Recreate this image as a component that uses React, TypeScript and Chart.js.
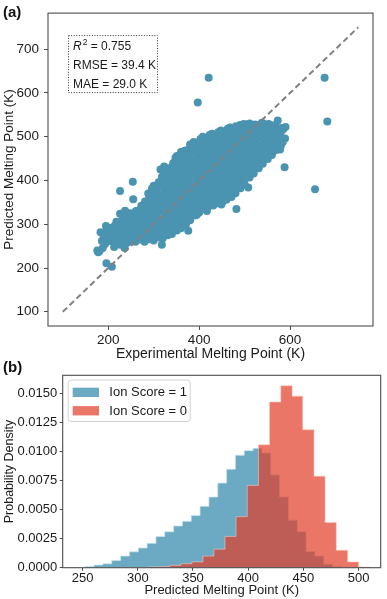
import React, { useEffect, useRef } from 'react';
import { Chart, registerables } from 'chart.js';

Chart.register(...registerables);

const FONT = '"Liberation Sans", Arial, Helvetica, sans-serif';
const TEXT = '#1a1a1a';
const AXIS = '#4d4d4d';

// ---------- Panel (a) data ----------
const scatterRange = [67.5, 782.5];
const parityLine = [100, 750];
const scatterTicksX = [200, 400, 600];
const scatterTicksY = [100, 200, 300, 400, 500, 600, 700];
const metricR2 = '0.755';
const metricRMSE = 'RMSE = 39.4 K';
const metricMAE = 'MAE = 29.0 K';

// [experimental K, predicted K]
const meltingPoints: [number, number][] = [
  [178,236],[176,240],[181,239],[186,262],[183,282],[189,276],[190,268],[193,255],[195,283],[195,296],
  [196,211],[198,262],[200,292],[203,275],[204,286],[208,203],[208,271],[210,282],[211,293],[215,257],
  [215,297],[218,270],[218,306],[220,286],[222,300],[224,262],[226,253],[226,324],[226,376],[229,276],
  [230,290],[232,314],[233,264],[233,301],[235,282],[236,246],[237,331],[238,270],[240,295],[240,320],
  [242,258],[244,308],[245,288],[247,300],[248,275],[248,325],[250,262],[252,280],[252,295],[252,315],
  [254,397],[255,357],[256,268],[257,305],[188,246],[205,262],[213,248],[228,305],[243,276],[255,290],
  [260,260],[262,274],[259,288],[261,302],[263,316],[261,330],[265,281],[266,309],
  [271,265],[269,279],[272,293],[270,307],[268,321],[271,335],[273,342],[277,335],[275,286],[276,300],
  [280,260],[282,274],[279,288],[281,302],[283,316],[280,330],[278,344],[281,352],[285,282],[286,310],
  [291,266],[289,280],[292,294],[290,308],[288,322],[291,336],[293,350],[290,364],[288,370],[295,273],[296,330],
  [300,263],[302,277],[299,291],[301,305],[303,319],[300,333],[298,347],[301,361],[303,375],[300,388],[296,381],
  [311,270],[309,284],[312,298],[310,312],[308,326],[311,340],[313,354],[310,368],[308,382],[311,396],
  [318,253],[320,268],[322,282],[319,296],[321,310],[323,324],[320,338],[318,352],[321,366],[323,380],[320,394],[318,408],[322,415],[315,425],
  [331,275],[329,289],[332,303],[330,317],[328,331],[331,345],[333,359],[330,373],[328,387],[331,401],[333,415],[330,428],[323,432],[336,420],
  [340,278],[342,292],[339,306],[341,320],[343,334],[340,348],[338,362],[341,376],[343,390],[340,404],[338,418],[341,432],[343,440],
  [351,286],[349,300],[352,314],[350,328],[348,342],[351,356],[353,370],[350,384],[348,398],[351,412],[353,426],[350,440],[348,452],[351,456],
  [360,291],[362,305],[359,319],[361,333],[363,347],[360,361],[358,375],[361,389],[363,403],[360,417],[358,431],[361,445],[363,459],[360,465],
  [371,300],[369,314],[372,328],[370,342],[368,356],[371,370],[373,384],[370,398],[368,412],[371,426],[373,440],[370,454],[368,468],[373,469],[376,285],
  [380,309],[382,323],[379,337],[381,351],[383,365],[380,379],[378,393],[381,407],[383,421],[380,435],[378,449],[381,463],[383,477],[380,482],
  [391,320],[389,334],[392,348],[390,362],[388,376],[391,390],[393,404],[390,418],[388,432],[391,446],[393,460],[390,474],[388,488],[395,322],
  [400,327],[402,341],[399,355],[401,369],[403,383],[400,397],[398,411],[401,425],[403,439],[400,453],[398,467],[401,481],[403,495],[406,495],
  [411,335],[409,349],[412,363],[410,377],[408,391],[411,405],[413,419],[410,433],[408,447],[411,461],[413,475],[410,489],[408,500],[417,337],
  [420,340],[422,354],[419,368],[421,382],[423,396],[420,410],[418,424],[421,438],[423,452],[420,466],[418,480],[421,494],[423,504],[424,350],
  [431,343],[429,357],[432,371],[430,385],[428,399],[431,413],[433,427],[430,441],[428,455],[431,469],[433,483],[430,497],[428,507],
  [440,348],[442,362],[439,376],[441,390],[443,404],[440,418],[438,432],[441,446],[443,460],[440,474],[438,488],[441,502],[442,510],
  [451,350],[449,364],[452,378],[450,392],[448,406],[451,420],[453,434],[450,448],[448,462],[451,476],[453,490],[450,504],[448,514],
  [460,356],[462,370],[459,384],[461,398],[463,412],[460,426],[458,440],[461,454],[463,468],[460,482],[458,496],[461,510],[463,518],
  [471,362],[469,376],[472,390],[470,404],[468,418],[471,432],[473,446],[470,460],[468,474],[471,488],[473,502],[470,516],[468,521],
  [482,335],[480,371],[482,385],[479,399],[481,413],[483,427],[480,441],[478,455],[481,469],[483,483],[480,497],[478,511],[481,524],[488,396],
  [491,382],[489,396],[492,410],[490,424],[488,438],[491,452],[493,466],[490,480],[488,494],[491,508],[493,522],[490,527],
  [500,392],[502,406],[499,420],[501,434],[503,448],[500,462],[498,476],[501,490],[503,504],[500,518],[498,529],[508,384],[505,528],
  [511,407],[509,421],[512,435],[510,449],[508,463],[511,477],[513,491],[510,505],[508,519],[511,530],
  [520,416],[522,430],[519,444],[521,458],[523,472],[520,486],[518,500],[521,514],[523,528],
  [531,428],[529,442],[532,456],[530,470],[528,484],[531,498],[533,512],[530,526],[538,532],
  [540,438],[542,452],[539,466],[541,480],[543,494],[540,508],[538,522],[541,530],
  [551,449],[549,463],[552,477],[550,491],[548,505],[551,519],[553,529],
  [560,458],[562,472],[559,486],[561,500],[563,514],[560,526],[565,468],
  [571,470],[569,484],[572,498],[570,512],[568,524],[573,537],[578,471],
  [580,480],[582,494],[579,508],[581,520],[585,517],[584,488],
  [589,496],[590,522],[588,430],
  [397,578],[421,635],[655,380],[676,635],[682,535],
  [449,345],[395,330],[417,330],
];

// ---------- Panel (b) data ----------
const histRangeX = [232, 520];
const histMaxY = 0.0166;
const histTicksX = [250, 300, 350, 400, 450, 500];
const histTicksY = [0, 0.0025, 0.005, 0.0075, 0.01, 0.0125, 0.015];
const ionScore1Label = 'Ion Score = 1';
const ionScore0Label = 'Ion Score = 0';
const ionScore1Edges = [252.4, 260.4, 268.4, 276.4, 284.4, 292.4, 300.4, 308.4, 316.4, 324.4, 332.4, 340.4, 348.4, 356.4, 364.4, 372.4, 380.4, 388.4, 396.4, 404.4, 412.4, 420.4, 428.4, 436.4, 444.4, 452.4, 460.4, 468.4, 476.4, 484.4];
const ionScore1Density = [0.00011, 0.00023, 0.00034, 0.00063, 0.0010, 0.00137, 0.0017, 0.0021, 0.0027, 0.0031, 0.0036, 0.0040, 0.0045, 0.0053, 0.0061, 0.0073, 0.0085, 0.0097, 0.0101, 0.0103, 0.0099, 0.0080, 0.0061, 0.0041, 0.0031, 0.0014, 0.0010, 0.0003, 0.0001];
const ionScore0Edges = [309, 319, 329, 339, 349, 359, 369, 379, 389, 399.1, 409.3, 419.3, 429.5, 439.8, 449.4, 459.6, 469.6, 479.8, 490.1, 500, 509.9];
const ionScore0Density = [0.00006, 0.0001, 0.0002, 0.00034, 0.0005, 0.0010, 0.0016, 0.0027, 0.0044, 0.0071, 0.0106, 0.0143, 0.0157, 0.0148, 0.0119, 0.0079, 0.0039, 0.0015, 0.0005, 0.00006];

const BLUE_FILL = 'rgba(46,134,171,0.7)';
const RED_FILL = 'rgba(224,60,38,0.7)';
const SCATTER = '#4a94b1';

function stepSeries(edges: number[], dens: number[]) {
  const pts = [{ x: edges[0], y: 0 }];
  dens.forEach((d, i) => pts.push({ x: edges[i], y: d }));
  pts.push({ x: edges[edges.length - 1], y: 0 });
  return pts;
}

const framePlugin = {
  id: 'frame',
  afterDatasetsDraw(chart: any) {
    const { ctx, chartArea } = chart;
    ctx.save();
    ctx.strokeStyle = AXIS;
    ctx.lineWidth = 1.1;
    ctx.strokeRect(chartArea.left, chartArea.top, chartArea.right - chartArea.left, chartArea.bottom - chartArea.top);
    ctx.restore();
  },
};

const metricsPlugin = {
  id: 'metrics',
  afterDraw(chart: any) {
    const { ctx, chartArea } = chart;
    const bx = chartArea.left + 20;
    const by = chartArea.top + 22;
    ctx.save();
    ctx.setLineDash([1, 1.6]);
    ctx.strokeStyle = '#333';
    ctx.lineWidth = 1;
    ctx.strokeRect(bx + 0.5, by + 0.5, 89, 57);
    ctx.setLineDash([]);
    ctx.fillStyle = TEXT;
    ctx.textBaseline = 'alphabetic';
    ctx.textAlign = 'left';
    let x = bx + 5;
    ctx.font = `italic 12px ${FONT}`;
    ctx.fillText('R', x, by + 14.7);
    x += ctx.measureText('R').width + 1;
    ctx.font = `8.5px ${FONT}`;
    ctx.fillText('2', x, by + 9.5);
    x += ctx.measureText('2').width;
    ctx.font = `12px ${FONT}`;
    ctx.fillText(' = ' + metricR2, x, by + 14.7);
    ctx.fillText(metricRMSE, bx + 5, by + 34);
    ctx.fillText(metricMAE, bx + 5, by + 52.7);
    ctx.restore();
  },
};

const legendPlugin = {
  id: 'histLegend',
  afterDraw(chart: any) {
    const { ctx, chartArea } = chart;
    const bx = chartArea.left + 5;
    const by = chartArea.top + 4.2;
    ctx.save();
    ctx.beginPath();
    (ctx as any).roundRect(bx + 0.5, by + 0.5, 122, 41.5, 3);
    ctx.fillStyle = 'rgba(255,255,255,0.85)';
    ctx.fill();
    ctx.strokeStyle = '#d2d2d2';
    ctx.lineWidth = 1;
    ctx.stroke();
    const rows = [
      { label: ionScore1Label, color: BLUE_FILL },
      { label: ionScore0Label, color: RED_FILL },
    ];
    rows.forEach((r, i) => {
      const py = by + 8.2 + i * 18.4;
      ctx.fillStyle = r.color;
      ctx.fillRect(bx + 5, py, 26.3, 9.3);
      ctx.fillStyle = TEXT;
      ctx.font = `13px ${FONT}`;
      ctx.textBaseline = 'middle';
      ctx.fillText(r.label, bx + 41.6, py + 4.9);
    });
    ctx.restore();
  },
};

function tickGrid(len: number) {
  return { display: true, drawOnChartArea: false, drawTicks: true, tickLength: len, tickColor: AXIS, tickWidth: 1 };
}

export default function App() {
  const refA = useRef<HTMLCanvasElement>(null);
  const refB = useRef<HTMLCanvasElement>(null);

  useEffect(() => {
    const chartA = new Chart(refA.current!, {
      type: 'scatter',
      data: {
        datasets: [
          {
            type: 'line',
            data: parityLine.map((v) => ({ x: v, y: v })),
            borderColor: '#808080',
            borderWidth: 2,
            borderDash: [6, 3.5],
            pointRadius: 0,
            fill: false,
            order: 0,
          } as any,
          {
            type: 'scatter',
            data: meltingPoints.map(([x, y]) => ({ x, y })),
            backgroundColor: SCATTER,
            borderWidth: 0,
            pointRadius: 4,
            order: 1,
          },
        ],
      },
      options: {
        responsive: false,
        animation: false,
        devicePixelRatio: 1,
        layout: { padding: { left: 0, right: 14, top: 2, bottom: 0 } },
        plugins: { legend: { display: false }, tooltip: { enabled: false } },
        scales: {
          x: {
            type: 'linear',
            min: scatterRange[0],
            max: scatterRange[1],
            afterBuildTicks: (s: any) => { s.ticks = scatterTicksX.map((v) => ({ value: v })); },
            afterFit: (s: any) => { s.height = 39; },
            grid: tickGrid(4),
            border: { display: false },
            ticks: { font: { family: FONT, size: 13.5 }, color: TEXT, padding: 2, maxRotation: 0, autoSkip: false, callback: (v: any) => String(v) },
            title: { display: true, text: 'Experimental Melting Point (K)', font: { family: FONT, size: 14 }, color: TEXT, padding: { top: 0, bottom: 2.5 } },
          },
          y: {
            type: 'linear',
            min: scatterRange[0],
            max: scatterRange[1],
            afterBuildTicks: (s: any) => { s.ticks = scatterTicksY.map((v) => ({ value: v })); },
            afterFit: (s: any) => { s.width = 48; },
            grid: tickGrid(4),
            border: { display: false },
            ticks: { font: { family: FONT, size: 13.5 }, color: TEXT, padding: 5, autoSkip: false, callback: (v: any) => String(v) },
            title: { display: true, text: 'Predicted Melting Point (K)', font: { family: FONT, size: 13.5 }, color: TEXT, padding: { top: 1, bottom: 0 } },
          },
        },
      },
      plugins: [framePlugin, metricsPlugin],
    });

    const chartB = new Chart(refB.current!, {
      type: 'line',
      data: {
        datasets: [
          {
            label: ionScore0Label,
            data: stepSeries(ionScore0Edges, ionScore0Density),
            stepped: 'before',
            fill: 'origin',
            backgroundColor: RED_FILL,
            borderColor: 'rgba(255,200,190,0.55)',
            borderWidth: 1,
            pointRadius: 0,
            order: 0,
          } as any,
          {
            label: ionScore1Label,
            data: stepSeries(ionScore1Edges, ionScore1Density),
            stepped: 'before',
            fill: 'origin',
            backgroundColor: BLUE_FILL,
            borderColor: 'rgba(200,230,242,0.7)',
            borderWidth: 1,
            pointRadius: 0,
            order: 1,
          } as any,
        ],
      },
      options: {
        responsive: false,
        animation: false,
        devicePixelRatio: 1,
        layout: { padding: { left: 0, right: 6.3, top: 8.3, bottom: 0 } },
        plugins: { legend: { display: false }, tooltip: { enabled: false } },
        scales: {
          x: {
            type: 'linear',
            min: histRangeX[0],
            max: histRangeX[1],
            afterBuildTicks: (s: any) => { s.ticks = histTicksX.map((v) => ({ value: v })); },
            afterFit: (s: any) => { s.height = 31.3; },
            grid: tickGrid(3),
            border: { display: false },
            ticks: { font: { family: FONT, size: 13 }, color: TEXT, padding: 0, maxRotation: 0, autoSkip: false, callback: (v: any) => String(v) },
            title: { display: true, text: 'Predicted Melting Point (K)', font: { family: FONT, size: 13 }, color: TEXT, padding: { top: 0, bottom: 0.5 } },
          },
          y: {
            type: 'linear',
            min: 0,
            max: histMaxY,
            afterBuildTicks: (s: any) => { s.ticks = histTicksY.map((v) => ({ value: v })); },
            afterFit: (s: any) => { s.width = 62.7; },
            grid: tickGrid(3),
            border: { display: false },
            ticks: { font: { family: FONT, size: 13 }, color: TEXT, padding: 2.5, autoSkip: false, callback: (v: any) => Number(v).toFixed(4) },
            title: { display: true, text: 'Probability Density', font: { family: FONT, size: 12.5 }, color: TEXT, padding: { top: 2, bottom: 0 } },
          },
        },
      },
      plugins: [framePlugin, legendPlugin],
    });

    return () => {
      chartA.destroy();
      chartB.destroy();
    };
  }, []);

  const panelLabel: React.CSSProperties = {
    position: 'absolute',
    left: 3,
    fontFamily: FONT,
    fontWeight: 'bold',
    fontSize: 15,
    lineHeight: '15px',
    color: '#111',
  };

  return (
    <div style={{ position: 'absolute', left: 0, top: 0, width: 387, height: 599, background: '#fff', overflow: 'hidden' }}>
      <canvas ref={refA} width={387} height={365} style={{ position: 'absolute', left: 0, top: 0, display: 'block' }} />
      <canvas ref={refB} width={387} height={234} style={{ position: 'absolute', left: 0, top: 365, display: 'block' }} />
      <div style={{ ...panelLabel, top: 4 }}>(a)</div>
      <div style={{ ...panelLabel, top: 359 }}>(b)</div>
    </div>
  );
}
